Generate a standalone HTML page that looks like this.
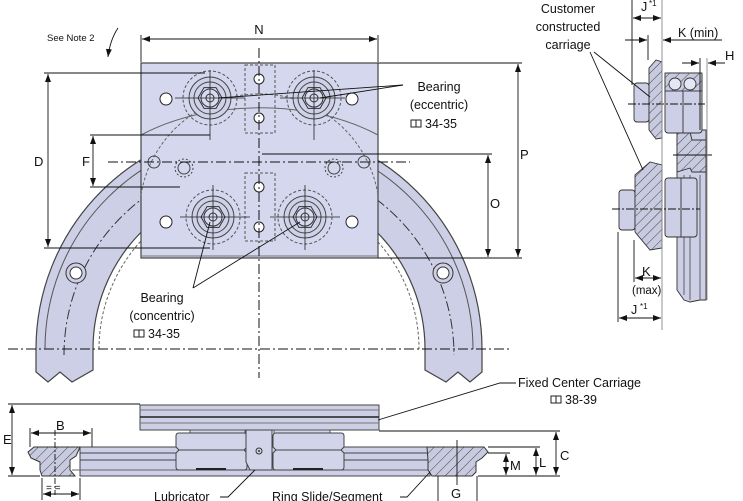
<!DOCTYPE html>
<html><head><style>
html,body{margin:0;padding:0;background:#fff;}
svg{display:block;}
text{font-family:"Liberation Sans",sans-serif;fill:#111;}
</style></head><body>
<svg width="743" height="501" viewBox="0 0 743 501" xmlns="http://www.w3.org/2000/svg">
<defs>
<pattern id="h" width="7" height="7" patternUnits="userSpaceOnUse" patternTransform="rotate(45)">
<rect width="7" height="7" fill="#c8cadf"/><line x1="0" y1="0" x2="0" y2="7" stroke="#444" stroke-width="1"/></pattern>
<marker id="a" markerWidth="8" markerHeight="6" refX="8" refY="3" orient="auto-start-reverse" markerUnits="userSpaceOnUse"><path d="M0,0 L8,3 L0,6 z" fill="#111"/></marker>
<g id="book"><rect x="0" y="0" width="5" height="7" fill="none" stroke="#222"/><rect x="5" y="0" width="5" height="7" fill="none" stroke="#222"/></g>
<g id="brg"><circle r="27" fill="none" stroke="#555" stroke-dasharray="3 2"/><circle r="21" fill="#cfd1e8" stroke="#444"/><circle r="16" fill="none" stroke="#444"/><polygon points="12,0 6,10.4 -6,10.4 -12,0 -6,-10.4 6,-10.4" fill="#d8daf0" stroke="#333"/><circle r="9" fill="none" stroke="#333"/><circle r="4" fill="none" stroke="#333"/></g>
<g id="blk" fill="#d2d4ea" stroke="#444">
<path d="M0,3 Q0,0 3,0 L68,0 Q71,0 71,3 L71,14 L68,17 L71,20 L71,34 Q71,37 68,37 L3,37 Q0,37 0,34 L0,20 L3,17 L0,14 Z"/>
<line x1="3" y1="17" x2="68" y2="17"/>
<line x1="20" y1="36" x2="50" y2="36" stroke="#222" stroke-width="2"/>
</g>
</defs>

<!-- ===== TOP VIEW ===== -->
<path d="M36,349 A223,223 0 0 1 482,349 L482,372 L470,382 L458,372 L446,382 L425,370 L425,349 A166,166 0 0 0 93,349 L93,370 L72,382 L60,372 L48,382 L36,372 Z" fill="#cdcfe6" stroke="#444" stroke-width="1.2"/>
<path d="M45,349 A214,214 0 0 1 473,349" fill="none" stroke="#555"/>
<path d="M64,355 A195,195 0 0 1 454,355" fill="none" stroke="#333" stroke-dasharray="10 3 2 3"/>
<path d="M99,349 A160,160 0 0 1 419,349" fill="none" stroke="#666" stroke-dasharray="3 2"/>
<circle cx="76" cy="273" r="10" fill="#cdcfe6" stroke="#333"/><circle cx="76" cy="273" r="6" fill="#fff" stroke="#333"/>
<circle cx="443" cy="273" r="10" fill="#cdcfe6" stroke="#333"/><circle cx="443" cy="273" r="6" fill="#fff" stroke="#333"/>
<rect x="141" y="63" width="237" height="195" fill="#d5d7ee" stroke="#444" stroke-width="1.2"/>
<line x1="141" y1="256" x2="378" y2="256" stroke="#777"/>
<path d="M141,195 A120,120 0 0 1 378,195" fill="none" stroke="#666" stroke-dasharray="3 2"/>
<path d="M141,135 A180,110 0 0 1 378,135" fill="none" stroke="#666"/>
<rect x="245" y="65" width="30" height="68" fill="none" stroke="#555" stroke-dasharray="3 2"/>
<rect x="245" y="173" width="30" height="68" fill="none" stroke="#555" stroke-dasharray="3 2"/>
<g stroke="#222" fill="#fff"><circle cx="259" cy="79" r="5"/><circle cx="259" cy="118" r="5"/><circle cx="259" cy="187" r="5"/><circle cx="259" cy="227" r="5"/></g>
<g stroke="#222" fill="#fff"><circle cx="166" cy="99" r="6"/><circle cx="352" cy="99" r="6"/><circle cx="166" cy="222" r="6"/><circle cx="352" cy="222" r="6"/></g>
<g stroke="#444" fill="none"><circle cx="154" cy="162" r="6"/><circle cx="364" cy="162" r="6"/><circle cx="184" cy="168" r="9" stroke-dasharray="2 2"/><circle cx="184" cy="168" r="6"/><circle cx="334" cy="168" r="9" stroke-dasharray="2 2"/><circle cx="334" cy="168" r="6"/></g>
<use href="#brg" x="210" y="98"/><use href="#brg" x="314" y="98"/>
<use href="#brg" x="213" y="217"/><use href="#brg" x="305" y="217"/>
<g stroke="#222" stroke-width="0.8"><line x1="210" y1="70" x2="210" y2="140"/><line x1="175" y1="98" x2="245" y2="98"/><line x1="314" y1="70" x2="314" y2="140"/><line x1="280" y1="98" x2="345" y2="98"/><line x1="213" y1="185" x2="213" y2="250"/><line x1="180" y1="217" x2="250" y2="217"/><line x1="305" y1="185" x2="305" y2="250"/><line x1="270" y1="217" x2="340" y2="217"/></g>
<line x1="259" y1="48" x2="259" y2="378" stroke="#111" stroke-dasharray="10 3 2 3"/>
<line x1="108" y1="162" x2="410" y2="162" stroke="#111" stroke-dasharray="10 3 2 3"/>
<line x1="8" y1="349" x2="512" y2="349" stroke="#111" stroke-dasharray="10 3 2 3"/>
<g stroke="#111" stroke-width="0.9" fill="none">
<line x1="141" y1="35" x2="141" y2="62"/><line x1="378" y1="35" x2="378" y2="62"/>
<line x1="142" y1="39" x2="377" y2="39" marker-start="url(#a)" marker-end="url(#a)"/>
<line x1="44" y1="73" x2="205" y2="73"/><line x1="44" y1="248" x2="210" y2="248"/>
<line x1="48" y1="74" x2="48" y2="247" marker-start="url(#a)" marker-end="url(#a)"/>
<line x1="90" y1="135" x2="210" y2="135"/><line x1="90" y1="187" x2="180" y2="187"/>
<line x1="93" y1="136" x2="93" y2="186" marker-start="url(#a)" marker-end="url(#a)"/>
<line x1="262" y1="154" x2="492" y2="154"/><line x1="378" y1="258" x2="522" y2="258"/><line x1="378" y1="63" x2="522" y2="63"/>
<line x1="488" y1="155" x2="488" y2="257" marker-start="url(#a)" marker-end="url(#a)"/>
<line x1="518" y1="64" x2="518" y2="257" marker-start="url(#a)" marker-end="url(#a)"/>
<line x1="403" y1="85" x2="320" y2="98"/><line x1="403" y1="85" x2="218" y2="98"/>
<line x1="193" y1="288" x2="210" y2="222"/><line x1="193" y1="288" x2="300" y2="222"/>
<path d="M118,28 Q110,40 108,57" marker-end="url(#a)"/>
</g>
<text x="259" y="34" font-size="13" text-anchor="middle">N</text>
<text x="34" y="166" font-size="13">D</text>
<text x="82" y="166" font-size="13">F</text>
<text x="490" y="208" font-size="13">O</text>
<text x="520" y="159" font-size="13">P</text>
<text x="47" y="41" font-size="9.5">See Note 2</text>
<text x="439" y="91" font-size="12.5" text-anchor="middle">Bearing</text>
<text x="439" y="109" font-size="12.5" text-anchor="middle">(eccentric)</text>
<use href="#book" x="411" y="120"/><text x="425" y="128" font-size="12.5">34-35</text>
<text x="162" y="302" font-size="12.5" text-anchor="middle">Bearing</text>
<text x="162" y="320" font-size="12.5" text-anchor="middle">(concentric)</text>
<use href="#book" x="134" y="330"/><text x="148" y="338" font-size="12.5">34-35</text>

<!-- ===== BOTTOM VIEW ===== -->
<rect x="80" y="447" width="350" height="29" fill="#cdcfe6" stroke="#444"/>
<line x1="80" y1="453" x2="430" y2="453" stroke="#444"/><line x1="80" y1="460" x2="430" y2="460" stroke="#444"/><line x1="72" y1="470" x2="430" y2="470" stroke="#666"/>
<path d="M34,447 L80,447 L76,456 L70,460 L70,470 L75,476 L42,476 L40,470 L40,462 L31,458 L28,452 Z" fill="url(#h)" stroke="#333"/>
<path d="M427,447 L484,447 L488,452 L482,458 L476,462 L476,472 L472,476 L432,476 L428,470 L428,460 Z" fill="url(#h)" stroke="#333"/>
<rect x="140" y="405" width="239" height="25" fill="#cdcfe4" stroke="#444"/>
<line x1="140" y1="410" x2="379" y2="410" stroke="#777"/><line x1="140" y1="417" x2="379" y2="417" stroke="#222" stroke-width="1.5"/><line x1="140" y1="423" x2="379" y2="423" stroke="#777"/>
<g fill="#d2d4ea" stroke="#555">
<rect x="190" y="430" width="55" height="4"/><rect x="274" y="430" width="56" height="4"/>
</g>
<use href="#blk" x="176" y="433"/>
<use href="#blk" x="273" y="433"/>
<path d="M246,430 L272,430 L272,470 L250,470 L246,462 Z" fill="#d2d4ea" stroke="#444"/>
<circle cx="259" cy="451" r="3" fill="none" stroke="#333"/><circle cx="259" cy="451" r="1" fill="#333"/>
<g stroke="#111" stroke-width="0.9" fill="none">
<line x1="8" y1="404" x2="140" y2="404"/><line x1="8" y1="476" x2="40" y2="476"/>
<line x1="12" y1="405" x2="12" y2="475" marker-start="url(#a)" marker-end="url(#a)"/>
<line x1="30" y1="428" x2="30" y2="447"/><line x1="92" y1="428" x2="92" y2="447"/>
<line x1="31" y1="433" x2="91" y2="433" marker-start="url(#a)" marker-end="url(#a)"/>
<line x1="55" y1="430" x2="55" y2="495" stroke-dasharray="6 2 2 2"/>
<line x1="42" y1="478" x2="42" y2="500"/><line x1="80" y1="478" x2="80" y2="500"/>
<line x1="43" y1="494" x2="79" y2="494" marker-start="url(#a)" marker-end="url(#a)"/>
<line x1="379" y1="431" x2="560" y2="431"/><line x1="488" y1="447" x2="540" y2="447"/><line x1="488" y1="453" x2="510" y2="453"/><line x1="478" y1="476" x2="560" y2="476"/>
<line x1="556" y1="432" x2="556" y2="475" marker-start="url(#a)" marker-end="url(#a)"/>
<line x1="536" y1="448" x2="536" y2="475" marker-start="url(#a)" marker-end="url(#a)"/>
<line x1="506" y1="454" x2="506" y2="475" marker-start="url(#a)" marker-end="url(#a)"/>
<line x1="438" y1="476" x2="438" y2="501"/><line x1="477" y1="476" x2="477" y2="501"/>
<line x1="457" y1="440" x2="457" y2="485"/>
<polyline points="220,497 228,497 255,470"/>
<polyline points="400,497 407,497 430,472"/>
<polyline points="516,383 500,383 378,420"/>
</g>
<text x="3" y="444" font-size="13">E</text>
<text x="56" y="430" font-size="13">B</text>
<text x="46" y="491" font-size="10">= =</text>
<text x="560" y="460" font-size="13">C</text>
<text x="539" y="467" font-size="13">L</text>
<text x="510" y="470" font-size="13">M</text>
<text x="451" y="498" font-size="13">G</text>
<text x="154" y="501" font-size="12.5">Lubricator</text>
<text x="272" y="501" font-size="12.5">Ring Slide/Segment</text>
<text x="518" y="387" font-size="12.5">Fixed Center Carriage</text>
<use href="#book" x="551" y="396"/><text x="565" y="404" font-size="12.5">38-39</text>

<!-- ===== SIDE VIEW ===== -->
<g stroke="#333" stroke-width="0.9">
<path d="M677,130 L706,130 L706,300 L700,300 L690,302 L684,300 L677,290 Z" fill="#cdcfe6"/>
<line x1="690" y1="175" x2="690" y2="300" stroke="#555"/><line x1="684" y1="175" x2="684" y2="295" stroke="#555"/><line x1="700" y1="175" x2="700" y2="300" stroke="#555"/>
<path d="M677,132 L690,132 L692,140 L706,140 L706,172 L692,172 L690,168 L677,172 Z" fill="url(#h)"/>
<rect x="634" y="83" width="15" height="39" rx="3" fill="#cdcfe6"/>
<path d="M649,68 L656,60 L662,62 L662,138 L656,139 L649,130 Z" fill="url(#h)"/>
<rect x="665" y="73" width="37" height="60" rx="3" fill="#cdcfe6"/>
<rect x="665" y="73" width="37" height="18" fill="url(#h)"/>
<circle cx="675" cy="84" r="6" fill="#e6e7f5"/><circle cx="690" cy="84" r="6" fill="#e6e7f5"/>
<line x1="683" y1="91" x2="683" y2="133"/>
<rect x="619" y="190" width="16" height="40" rx="3" fill="#cdcfe6"/>
<path d="M635,175 L650,162 L662,165 L662,248 L650,250 L635,232 Z" fill="url(#h)"/>
<rect x="665" y="178" width="32" height="59" rx="3" fill="#cdcfe6"/>
<line x1="681" y1="178" x2="681" y2="237"/>
</g>
<g stroke="#111" stroke-width="0.9" fill="none">
<line x1="628" y1="104" x2="705" y2="104" stroke-dasharray="8 2 2 2"/>
<line x1="612" y1="209" x2="700" y2="209" stroke-dasharray="8 2 2 2"/>
<line x1="673" y1="155" x2="712" y2="155"/>
<line x1="632" y1="0" x2="632" y2="85"/><line x1="648" y1="35" x2="648" y2="60"/><line x1="662" y1="0" x2="662" y2="330" stroke="#888"/>
<line x1="633" y1="18" x2="661" y2="18" marker-start="url(#a)" marker-end="url(#a)"/>
<line x1="625" y1="40" x2="647" y2="40" marker-end="url(#a)"/><line x1="663" y1="40" x2="722" y2="40" marker-start="url(#a)"/>
<line x1="700" y1="58" x2="700" y2="130"/><line x1="707" y1="58" x2="707" y2="300" stroke="#888"/>
<line x1="682" y1="63" x2="699" y2="63" marker-end="url(#a)"/><line x1="725" y1="63" x2="708" y2="63" marker-end="url(#a)"/>
<line x1="634" y1="240" x2="634" y2="282"/><line x1="618" y1="232" x2="618" y2="322"/>
<line x1="635" y1="278" x2="661" y2="278" marker-start="url(#a)" marker-end="url(#a)"/>
<line x1="619" y1="318" x2="661" y2="318" marker-start="url(#a)" marker-end="url(#a)"/>
<line x1="594" y1="52" x2="650" y2="97"/><line x1="590" y1="52" x2="643" y2="170"/>
</g>
<text x="568" y="13" font-size="12.5" text-anchor="middle">Customer</text>
<text x="568" y="31" font-size="12.5" text-anchor="middle">constructed</text>
<text x="568" y="49" font-size="12.5" text-anchor="middle">carriage</text>
<text x="641" y="11" font-size="12.5">J</text><text x="649" y="6" font-size="8">*1</text>
<text x="678" y="37" font-size="12.5">K (min)</text>
<text x="725" y="60" font-size="13">H</text>
<text x="642" y="276" font-size="13">K</text>
<text x="632" y="294" font-size="11.5">(max)</text>
<text x="631" y="314" font-size="12.5">J</text><text x="640" y="309" font-size="8">*1</text>
</svg>
</body></html>
